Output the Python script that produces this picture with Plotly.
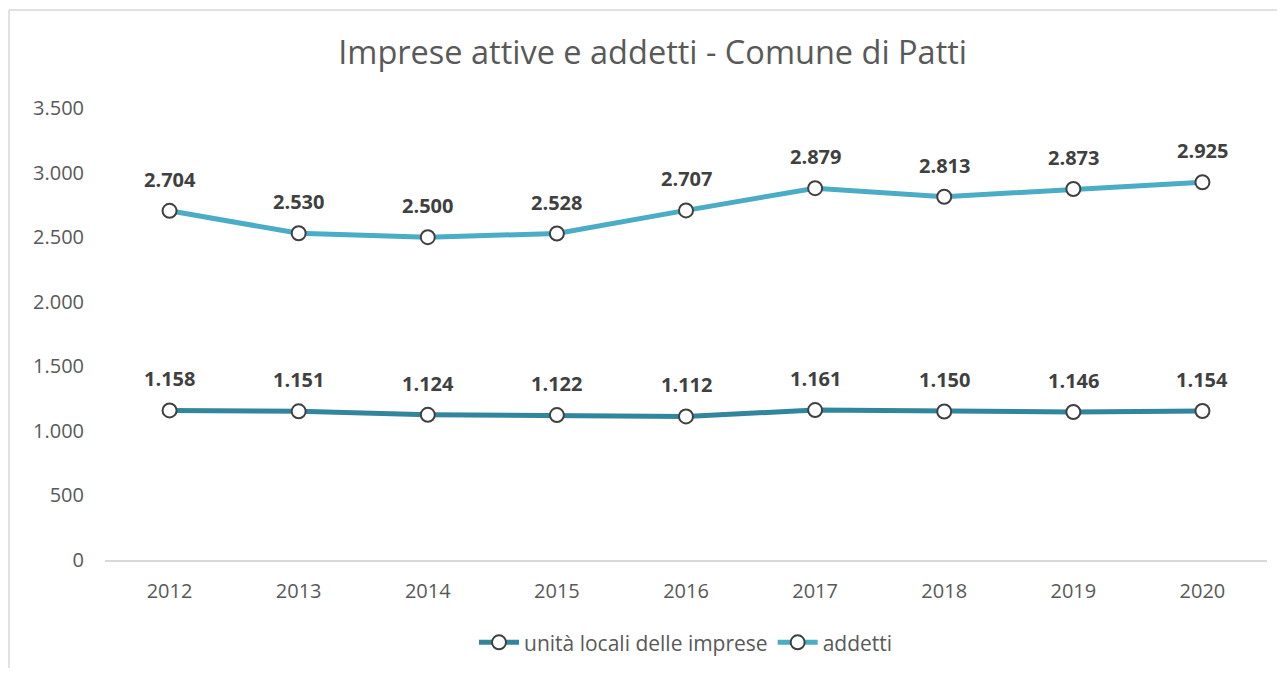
import plotly.graph_objects as go

anni = ["2012", "2013", "2014", "2015", "2016", "2017", "2018", "2019", "2020"]
unita_locali = [1158, 1151, 1124, 1122, 1112, 1161, 1150, 1146, 1154]
addetti = [2704, 2530, 2500, 2528, 2707, 2879, 2813, 2873, 2925]
y_ticks = [0, 500, 1000, 1500, 2000, 2500, 3000, 3500]


def fmt(v):
    # formato italiano: punto come separatore delle migliaia
    return f"{v:,}".replace(",", ".")


fig = go.Figure()

# serie: (nome, valori, colore)
serie = [
    ("unità locali delle imprese", unita_locali, "#31859C"),
    ("addetti", addetti, "#4BACC6"),
]

for nome, valori, colore in serie:
    fig.add_trace(go.Scatter(
        x=anni, y=valori, name=nome, mode="lines+markers",
        line=dict(color=colore, width=5),
        marker=dict(size=14, color="white", line=dict(color="#404040", width=2)),
        hoverinfo="x+y+name",
    ))
    # etichette dati sopra i punti (x come indice di categoria)
    for i, v in enumerate(valori):
        fig.add_annotation(
            x=i, y=v, text=f"<b>{fmt(v)}</b>", showarrow=False,
            yanchor="bottom", yshift=16,
            font=dict(family="Open Sans", size=20, color="#404040"),
        )

fig.update_layout(
    title=dict(text="Imprese attive e addetti - Comune di Patti",
               x=0.508, xanchor="center", y=0.932, yanchor="middle",
               font=dict(family="Open Sans", size=32.5, color="#595959")),
    width=1269, height=660,
    margin=dict(l=97, r=10, t=100, b=108, autoexpand=False),
    paper_bgcolor="white", plot_bgcolor="white",
    font=dict(family="Open Sans", size=20, color="#595959"),
    showlegend=True,
    legend=dict(orientation="h", x=0.5, xanchor="center", y=-0.183, yanchor="middle",
                font=dict(size=21, color="#595959"), itemwidth=40),
)

fig.update_xaxes(
    type="category", range=[-0.5, 8.5],
    showgrid=False, showline=True, linecolor="#d9d9d9", linewidth=1.5,
    ticks="", ticklabelstandoff=12, zeroline=False,
)
fig.update_yaxes(
    range=[0, 3500], tickvals=y_ticks, ticktext=[fmt(t) for t in y_ticks],
    showgrid=False, showline=False, zeroline=False, ticks="",
    ticklabelstandoff=20,
)

# cornice del grafico (bordo superiore e sinistro)
fig.add_shape(type="line", xref="paper", yref="paper",
              x0=-0.0826, x1=1.02, y0=1.2168, y1=1.2168,
              line=dict(color="#d9d9d9", width=1.5))
fig.add_shape(type="line", xref="paper", yref="paper",
              x0=-0.0826, x1=-0.0826, y0=1.2168, y1=-0.3,
              line=dict(color="#d9d9d9", width=1.5))

fig.write_html("out.html")
